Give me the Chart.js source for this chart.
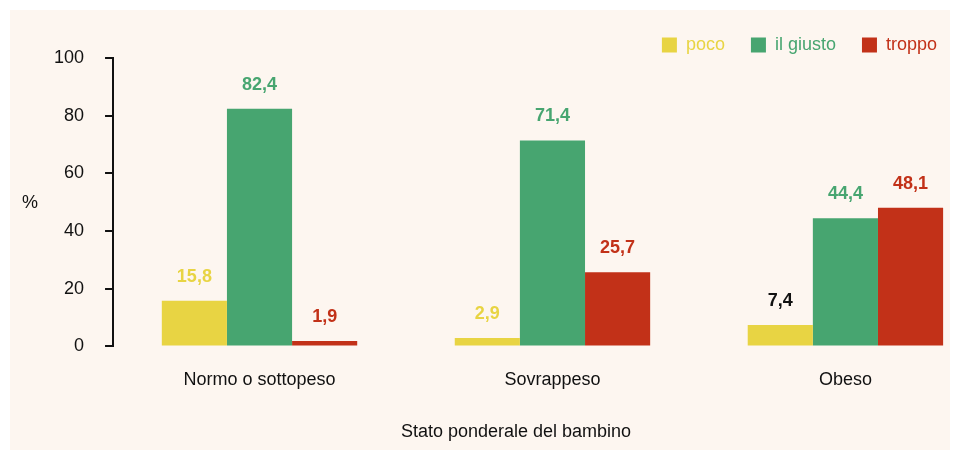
<!DOCTYPE html>
<html>
<head>
<meta charset="utf-8">
<script src="https://cdn.jsdelivr.net/npm/chart.js@4/dist/chart.umd.min.js"></script>
<style>
    html, body { margin: 0; padding: 0; background: #ffffff; }
    #wrap { position: absolute; left: 10px; top: 10px; width: 940px; height: 440px; background: #fdf6f0; }
</style>
</head>
<body>
<div id="wrap"><canvas id="chart" width="940" height="440"></canvas></div>
<script>
// Data
const categories = ['Normo o sottopeso', 'Sovrappeso', 'Obeso'];
const seriesNames = ['poco', 'il giusto', 'troppo'];
const poco = [15.8, 2.9, 7.4];
const giusto = [82.4, 71.4, 44.4];
const troppo = [1.9, 25.7, 48.1];
const yTicks = [0, 20, 40, 60, 80, 100];

const colors = ['#e8d443', '#47a570', '#c23118'];
// label colour per bar (the 7,4 label is black in the original)
const labelColors = [
    ['#e8d443', '#e8d443', '#111111'],
    ['#47a570', '#47a570', '#47a570'],
    ['#c23118', '#c23118', '#c23118']
];

const FONT = 'Liberation Sans, Arial, sans-serif';

function fmt(v) {
    return v.toFixed(1).replace('.', ',');
}

const datasets = [poco, giusto, troppo].map((vals, i) => ({
    label: seriesNames[i],
    data: vals.map((v, j) => ({ x: j, y: v })),
    backgroundColor: colors[i],
    borderWidth: 0,
    categoryPercentage: 0.667,
    barPercentage: 1.0
}));

// Value labels, the "%" unit and the x title
const extras = {
    id: 'extras',
    afterDatasetsDraw(chart) {
        const ctx = chart.ctx;
        ctx.save();
        ctx.textAlign = 'center';
        ctx.textBaseline = 'middle';
        ctx.font = 'bold 18px ' + FONT;
        chart.data.datasets.forEach((ds, i) => {
            chart.getDatasetMeta(i).data.forEach((bar, j) => {
                ctx.fillStyle = labelColors[i][j];
                ctx.fillText(fmt(ds.data[j].y), bar.x, bar.y - 24);
            });
        });
        ctx.font = '18px ' + FONT;
        ctx.fillStyle = '#111111';
        ctx.fillText('%', 20, 193);
        ctx.fillText('Stato ponderale del bambino', 506, 422);
        ctx.restore();
    }
};

new Chart(document.getElementById('chart'), {
    type: 'bar',
    data: { datasets: datasets },
    options: {
        responsive: false,
        animation: false,
        // negative right padding pushes the legend to the panel edge
        layout: { padding: { left: 23, right: -13, top: 0, bottom: 36 } },
        plugins: {
            legend: {
                position: 'top',
                align: 'end',
                maxHeight: 48,
                labels: {
                    boxWidth: 15,
                    boxHeight: 15,
                    padding: 26,
                    font: { size: 18, family: FONT },
                    generateLabels(chart) {
                        return chart.data.datasets.map((ds, i) => ({
                            text: ds.label,
                            fillStyle: ds.backgroundColor,
                            strokeStyle: ds.backgroundColor,
                            lineWidth: 0,
                            fontColor: ds.backgroundColor,
                            datasetIndex: i
                        }));
                    }
                }
            },
            tooltip: { enabled: false }
        },
        scales: {
            x: {
                type: 'linear',
                offset: false,
                min: -0.5,
                max: 2.357,
                grid: { display: false, drawTicks: false, offset: false },
                border: { display: false },
                afterBuildTicks(scale) {
                    scale.ticks = categories.map((c, i) => ({ value: i }));
                },
                ticks: {
                    padding: 23,
                    color: '#111111',
                    font: { size: 18, family: FONT },
                    callback: (v) => categories[v] || ''
                }
            },
            y: {
                min: 0,
                max: 100,
                afterBuildTicks(scale) {
                    scale.ticks = yTicks.map(v => ({ value: v }));
                },
                grid: {
                    display: true,
                    drawOnChartArea: false,
                    drawTicks: true,
                    tickLength: 8,
                    color: '#111111',
                    lineWidth: 2
                },
                border: { display: true, color: '#111111', width: 2 },
                ticks: {
                    padding: 21,
                    color: '#111111',
                    font: { size: 18, family: FONT }
                }
            }
        }
    },
    plugins: [extras]
});
</script>
</body>
</html>
